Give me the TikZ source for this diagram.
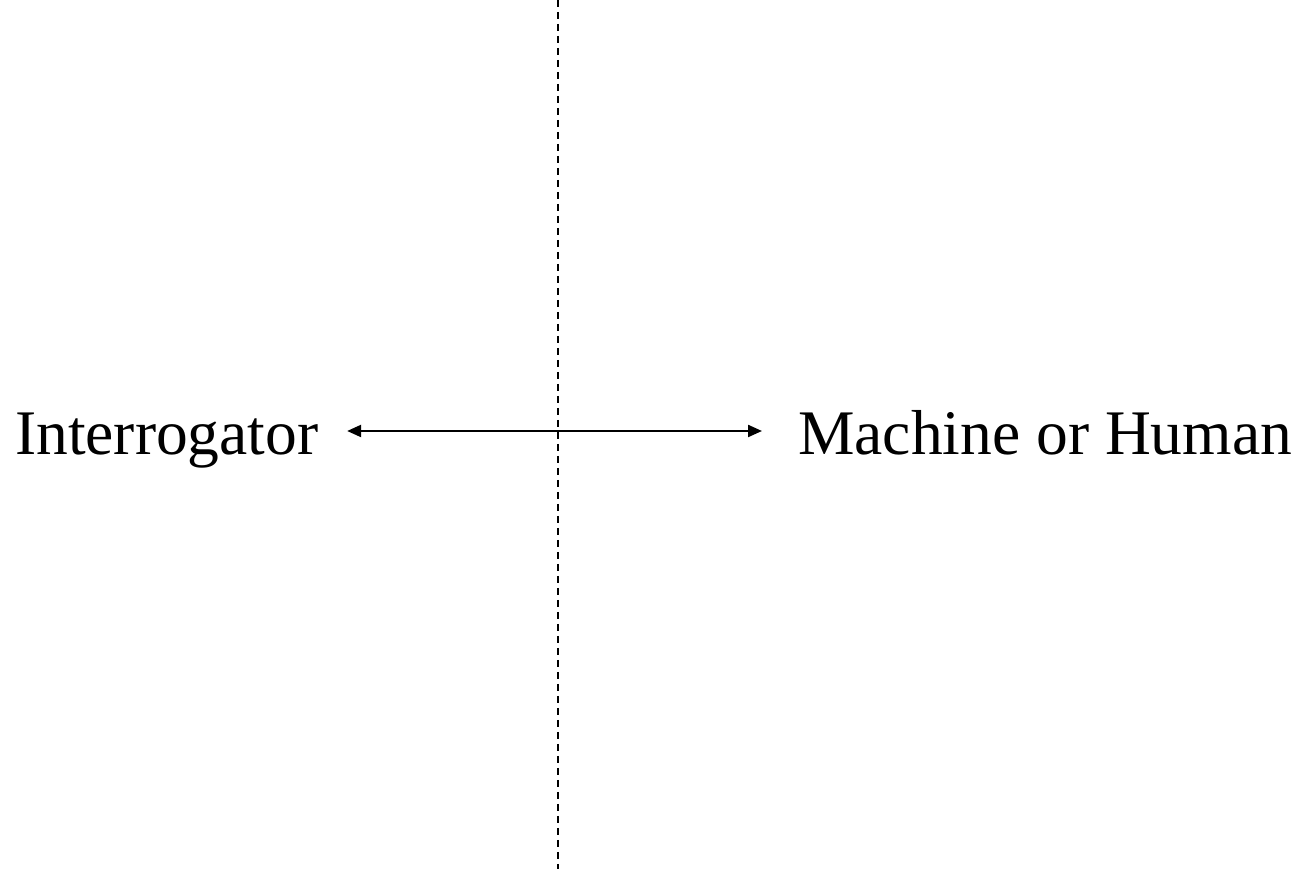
\documentclass[tikz,border=0pt]{standalone}
\usepackage{fontspec}
\setmainfont{Liberation Serif}
\usetikzlibrary{arrows.meta}
\begin{document}
\begin{tikzpicture}[x=1pt,y=1pt,
  label text/.style={font=\fontsize{63.5}{72}\selectfont, inner ysep=0pt, inner xsep=#1, anchor=base west},
  label text/.default=30pt,
  link/.style={line width=2.2pt, {Triangle[length=14pt,width=12pt]}-{Triangle[length=14pt,width=12pt]}},
  divider/.style={line width=2pt, dash pattern=on 7pt off 5pt}]
  \useasboundingbox (0,0) rectangle (1306,869);
  % separating wall between the two rooms
  \coordinate (top) at (558,869);
  \coordinate (bottom) at (558,0);
  \draw[divider] (top) -- (bottom);
  % the two parties
  \coordinate (cross) at (558,438);
  \node[label text=28.5pt] (int) at (-13.5,414) {Interrogator};
  \node[label text=36pt] (mach) at (762,414) {Machine or Human};
  % two-way exchange through the wall
  \draw[link] (int.east |- cross) -- (mach.west |- cross);
\end{tikzpicture}
\end{document}
